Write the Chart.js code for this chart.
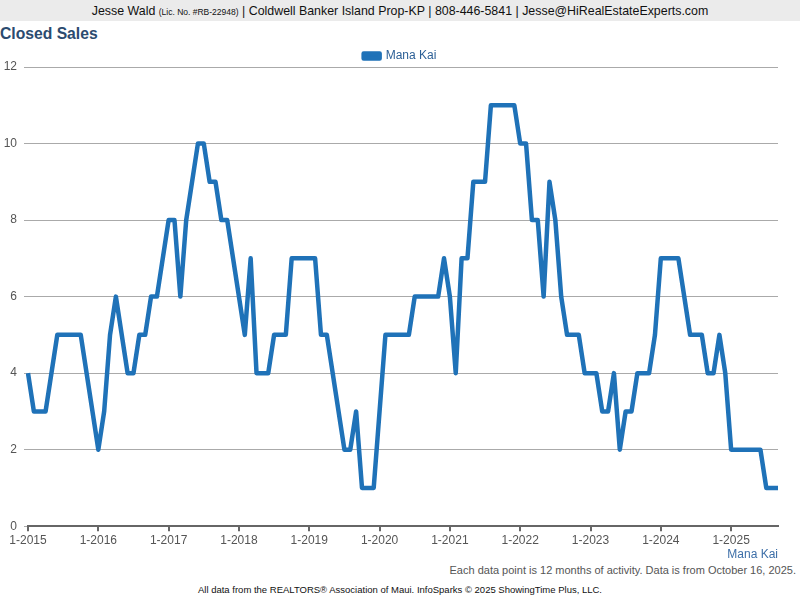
<!DOCTYPE html>
<html>
<head>
<meta charset="utf-8">
<script src="https://cdn.jsdelivr.net/npm/chart.js@4/dist/chart.umd.min.js"></script>
<style>
  body { margin: 0; width: 800px; height: 600px; background: #fff; font-family: "Liberation Sans", Arial, sans-serif; position: relative; overflow: hidden; }
  #hdr { position: absolute; left: 0; top: 0; width: 800px; height: 21px; background: #ebebeb; text-align: center; font-size: 12.4px; line-height: 22px; color: #111; }
  #hdr small { font-size: 8.5px; }
  #ttl { position: absolute; left: 0; top: 25px; font-size: 15.7px; font-weight: bold; color: #2b4b6f; }
  #wrap { position: absolute; left: 0; top: 49px; width: 800px; height: 513px; }
  #note { position: absolute; right: 4px; top: 564px; font-size: 11px; color: #555; }
  #foot { position: absolute; left: 0; width: 800px; top: 584px; text-align: center; font-size: 9.5px; color: #111; }
</style>
</head>
<body>
<div id="hdr">Jesse Wald <small>(Lic. No. #RB-22948)</small> | Coldwell Banker Island Prop-KP | 808-446-5841 | Jesse@HiRealEstateExperts.com</div>
<div id="ttl">Closed Sales</div>
<div id="wrap"><canvas id="chart"></canvas></div>
<div id="note">Each data point is 12 months of activity. Data is from October 16, 2025.</div>
<div id="foot">All data from the REALTORS® Association of Maui. InfoSparks © 2025 ShowingTime Plus, LLC.</div>
<script>
// monthly, rolling 12 months, 1-2015 .. 9-2025
var startYear = 2015;
var months = [];
for (var i = 0; i < 129; i++) {
	months.push((i % 12 + 1) + '-' + (startYear + Math.floor(i / 12)));
}

var manaKai = [
	4, 3, 3, 3, 4, 5, 5, 5, 5, 5, 4, 3,        // 2015
	2, 3, 5, 6, 5, 4, 4, 5, 5, 6, 6, 7,        // 2016
	8, 8, 6, 8, 9, 10, 10, 9, 9, 8, 8, 7,      // 2017
	6, 5, 7, 4, 4, 4, 5, 5, 5, 7, 7, 7,        // 2018
	7, 7, 5, 5, 4, 3, 2, 2, 3, 1, 1, 1,        // 2019
	3, 5, 5, 5, 5, 5, 6, 6, 6, 6, 6, 7,        // 2020
	6, 4, 7, 7, 9, 9, 9, 11, 11, 11, 11, 11,   // 2021
	10, 10, 8, 8, 6, 9, 8, 6, 5, 5, 5, 4,      // 2022
	4, 4, 3, 3, 4, 2, 3, 3, 4, 4, 4, 5,        // 2023
	7, 7, 7, 7, 6, 5, 5, 5, 4, 4, 5, 4,        // 2024
	2, 2, 2, 2, 2, 2, 1, 1, 1                  // 2025
];

var yTicks = [0, 2, 4, 6, 8, 10, 12];

// legend reserves a bit too much room under it, trim it
var tightLegend = {
	id: 'tightLegend',
	afterInit: function(chart) {
		var fit = chart.legend.fit;
		chart.legend.fit = function() {
			fit.call(this);
			this.height = Math.max(0, this.height - 5);
		};
	}
};

var ctx = document.getElementById('chart');
var chart = new Chart(ctx, {
	type: 'line',
	data: {
		labels: months,
		datasets: [{
			label: 'Mana Kai',
			data: manaKai,
			borderColor: '#1f72b8',
			backgroundColor: '#1f72b8',
			borderWidth: 4.5,
			pointRadius: 0,
			tension: 0,
			fill: false,
			borderJoinStyle: 'round'
		}]
	},
	plugins: [tightLegend],
	options: {
		responsive: true,
		maintainAspectRatio: false,
		animation: false,
		layout: { padding: 0 },
		plugins: {
			legend: {
				labels: {
					boxWidth: 16,
					boxHeight: 5,
					padding: 1,
					color: '#2b5f96',
					font: { family: 'Liberation Sans', size: 12 }
				}
			},
			tooltip: { enabled: false }
		},
		scales: {
			x: {
				grid: {
					drawOnChartArea: false,
					tickLength: 5,
					color: function(c) { return c.index % 12 === 0 ? '#666' : 'rgba(0,0,0,0)'; },
					lineWidth: 2
				},
				border: { color: '#666', width: 2 },
				ticks: {
					autoSkip: false,
					maxRotation: 0,
					color: '#555',
					font: { family: 'Liberation Sans', size: 12 },
					padding: 2,
					callback: function(v, i) { return i % 12 === 0 ? months[i] : ''; }
				},
				title: {
					display: true,
					text: 'Mana Kai',
					align: 'end',
					color: '#3d6fa8',
					font: { family: 'Liberation Sans', size: 12 },
					padding: { top: -2, bottom: 0 }
				}
			},
			y: {
				min: 0,
				max: 12,
				afterBuildTicks: function(axis) { axis.ticks = yTicks.map(function(v) { return { value: v }; }); },
				afterFit: function(axis) { axis.width = 28; },
				grid: { color: '#aaa', tickLength: 4, lineWidth: 1 },
				border: { display: false },
				ticks: {
					color: '#555',
					font: { family: 'Liberation Sans', size: 12 },
					padding: 7
				}
			},
			// empty right axis, only keeps the plot clear of the right edge
			yRight: {
				position: 'right',
				grid: { display: false },
				border: { display: false },
				ticks: { display: false },
				afterFit: function(axis) { axis.width = 22; }
			}
		}
	}
});
</script>
</body>
</html>
